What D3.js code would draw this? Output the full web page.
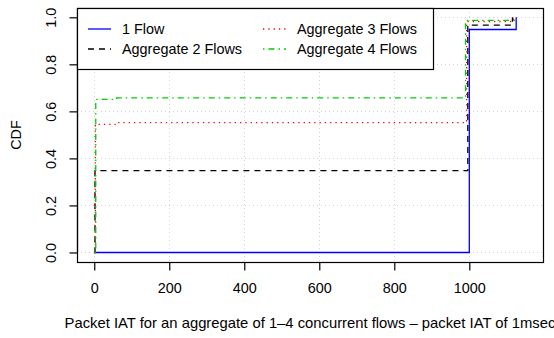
<!DOCTYPE html>
<html>
<head>
<meta charset="utf-8">
<script src="https://cdn.jsdelivr.net/npm/d3@7"></script>
<style>
  html, body { margin: 0; padding: 0; background: #fff; }
  svg { display: block; font-family: "Liberation Sans", Arial, sans-serif; }
</style>
</head>
<body>
<svg id="chart" width="554" height="338"></svg>
<script>
// Step points (x = packet IAT, y = cumulative fraction) for each series
const flow1X = [0, 1000, 1125];
const flow1Y = [0, 0.948, 1.0];
const agg2X = [0, 2, 996, 1115];
const agg2Y = [0, 0.348, 0.967, 1.0];
const agg3X = [0, 3, 60, 993, 1118];
const agg3Y = [0, 0.545, 0.552, 0.982, 1.0];
const agg4X = [0, 4, 60, 990, 1120];
const agg4Y = [0, 0.651, 0.657, 0.987, 1.0];

const seriesNames = ["1 Flow", "Aggregate 2 Flows", "Aggregate 3 Flows", "Aggregate 4 Flows"];
const xTicks = [0, 200, 400, 600, 800, 1000];
const yTicks = [0, 0.2, 0.4, 0.6, 0.8, 1.0];

const styles = [
  { color: "#0000FF", dash: null, width: 1.3 },
  { color: "#000000", dash: "6,5", width: 1.3 },
  { color: "#FF0000", dash: "1.3,4", width: 1.3 },
  { color: "#00CD00", dash: "1.5,4,6,4", width: 1.3 }
];

const series = [
  { name: seriesNames[0], x: flow1X, y: flow1Y },
  { name: seriesNames[1], x: agg2X, y: agg2Y },
  { name: seriesNames[2], x: agg3X, y: agg3Y },
  { name: seriesNames[3], x: agg4X, y: agg4Y }
];

const box = { left: 77, right: 543, top: 8, bottom: 262 };
const x = d3.scaleLinear().domain([-46, 1196.5]).range([box.left, box.right]);
const y = d3.scaleLinear().domain([-0.0405, 1.0395]).range([box.bottom, box.top]);
const fs = 14.4;

const svg = d3.select("#chart");
svg.append("rect").attr("width", 554).attr("height", 338).attr("fill", "#fff");

// grid
const grid = svg.append("g").attr("stroke", "#d3d3d3").attr("stroke-dasharray", "1,3").attr("stroke-width", 1);
xTicks.forEach(t => grid.append("line")
  .attr("x1", Math.round(x(t)) + 0.5).attr("x2", Math.round(x(t)) + 0.5)
  .attr("y1", box.top).attr("y2", box.bottom));
yTicks.forEach(t => grid.append("line")
  .attr("y1", Math.round(y(t)) + 0.5).attr("y2", Math.round(y(t)) + 0.5)
  .attr("x1", box.left).attr("x2", box.right));

// series
const line = d3.line().x(d => x(d[0])).y(d => y(d[1])).curve(d3.curveStepAfter);
series.forEach((s, i) => {
  const pts = s.x.map((v, k) => [v, s.y[k]]);
  svg.append("path")
    .attr("d", line(pts))
    .attr("fill", "none")
    .attr("stroke", styles[i].color)
    .attr("stroke-width", styles[i].width)
    .attr("stroke-dasharray", styles[i].dash);
});

// frame
svg.append("rect")
  .attr("x", box.left + 0.5).attr("y", box.top + 0.5)
  .attr("width", box.right - box.left).attr("height", box.bottom - box.top)
  .attr("fill", "none").attr("stroke", "#000").attr("stroke-width", 1.2);

// x axis
const xAxis = d3.axisBottom(x).tickValues(xTicks).tickSize(8).tickPadding(12).tickFormat(d3.format("d"));
const gx = svg.append("g").attr("transform", `translate(0,${box.bottom + 0.5})`).call(xAxis);
gx.select(".domain").attr("d", `M${x(0)},0H${x(1000)}`).attr("stroke-width", 1.2);
gx.selectAll(".tick line").attr("stroke-width", 1.2);
gx.selectAll("text").attr("font-size", fs).attr("font-family", "Liberation Sans, Arial, sans-serif").attr("fill", "#000");

// y axis
const yAxis = d3.axisLeft(y).tickValues(yTicks).tickSize(8).tickPadding(0).tickFormat(d3.format(".1f"));
const gy = svg.append("g").attr("transform", `translate(${box.left + 0.5},0)`).call(yAxis);
gy.select(".domain").attr("d", `M0,${y(0)}V${y(1)}`).attr("stroke-width", 1.2);
gy.selectAll(".tick line").attr("stroke-width", 1.2);
gy.selectAll("text")
  .attr("font-size", fs).attr("font-family", "Liberation Sans, Arial, sans-serif").attr("fill", "#000")
  .attr("x", null).attr("dy", null)
  .attr("text-anchor", "middle")
  .attr("transform", "translate(-22,0) rotate(-90)");

// axis titles
svg.append("text")
  .attr("x", 310).attr("y", 328)
  .attr("text-anchor", "middle").attr("font-size", 14.8).attr("fill", "#000")
  .text("Packet IAT for an aggregate of 1\u20134 concurrent flows \u2013 packet IAT of 1msec");
svg.append("text")
  .attr("transform", "translate(21,135) rotate(-90)")
  .attr("text-anchor", "middle").attr("font-size", fs).attr("fill", "#000")
  .text("CDF");

// legend
const leg = svg.append("g");
leg.append("rect")
  .attr("x", box.left + 0.5).attr("y", box.top + 0.5)
  .attr("width", 433 - box.left).attr("height", 69 - box.top)
  .attr("fill", "#fff").attr("stroke", "#000").attr("stroke-width", 1.2);
const legPos = [
  { sx: 88, tx: 122, y: 29 },
  { sx: 88, tx: 122, y: 49 },
  { sx: 263, tx: 297, y: 29 },
  { sx: 263, tx: 297, y: 49 }
];
series.forEach((s, i) => {
  const p = legPos[i];
  leg.append("line")
    .attr("x1", p.sx).attr("x2", p.sx + 23).attr("y1", p.y).attr("y2", p.y)
    .attr("stroke", styles[i].color).attr("stroke-width", styles[i].width)
    .attr("stroke-dasharray", styles[i].dash);
  leg.append("text")
    .attr("x", p.tx).attr("y", p.y + 5)
    .attr("font-size", fs).attr("fill", "#000")
    .text(s.name);
});
</script>
</body>
</html>
